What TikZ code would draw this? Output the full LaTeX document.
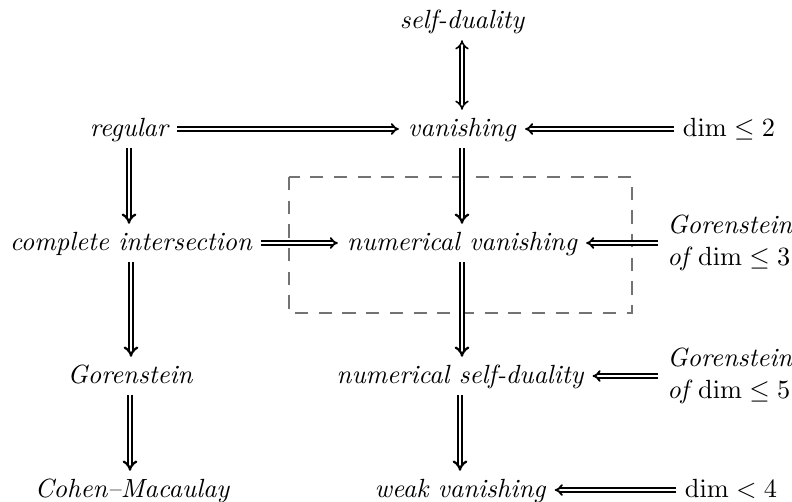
\documentclass[tikz,border=0pt]{standalone}
\usetikzlibrary{arrows.meta}
\tikzset{
  lbl/.style={inner sep=3.33pt, text height=1.5ex, text depth=.25ex, font=\itshape},
  mlbl/.style={inner sep=3.33pt, text height=1.5ex, text depth=.25ex},
  twoline/.style={inner sep=3.33pt, anchor=west, align=left, font=\itshape},
  harr/.style={double, line width=0.7pt, double distance=0.7pt, -{Implies}},
  varr/.style={double, line width=0.85pt, double distance=0.95pt, -{Implies}},
  barr/.style={double, line width=0.6pt, double distance=1.1pt, {Implies}-{Implies}},
  box/.style={draw=black!55, line width=0.6pt, dash pattern=on 5pt off 4pt}
}
\begin{document}
\begin{tikzpicture}[x=0.38pt, y=-0.38pt]
\useasboundingbox (0,0) rectangle (792,502);
% nodes
\node[lbl] (sd) at (462,21) {self-duality};
\node[lbl] (reg) at (129,129) {regular};
\node[lbl] (van) at (462,129) {vanishing};
\node[mlbl] (d2) at (729,129) {$\dim \leq 2$};
\node[lbl] (ci) at (131,243) {complete intersection};
\node[lbl] (nv) at (462,243) {numerical vanishing};
\node[twoline] (g3) at (658,243) {Gorenstein\\of \upshape$\dim \leq 3$};
\node[lbl] (gor) at (130,376) {Gorenstein};
\node[lbl] (nsd) at (460,376) {numerical self-duality};
\node[twoline] (g5) at (658,376) {Gorenstein\\of \upshape$\dim \leq 5$};
\node[lbl] (cm) at (132,490) {Cohen--Macaulay};
\node[lbl] (wv) at (460,490) {weak vanishing};
\node[mlbl] (d4) at (731,490) {$\dim < 4$};
% dashed box
\coordinate (bxa) at (289,177);
\coordinate (bxb) at (632,313);
\draw[box] (bxa) rectangle (bxb);
% arrows
\draw[barr] (sd.south) -- (sd.south |- van.north);
\draw[harr] (reg.east) -- (reg.east -| van.west);
\draw[harr] (d2.west) -- (d2.west -| van.east);
\draw[varr] (reg.south) -- (reg.south |- ci.north);
\draw[varr] (van.south) -- (van.south |- nv.north);
\draw[harr] (ci.east) -- (ci.east -| nv.west);
\draw[harr] (g3.west) -- (g3.west -| nv.east);
\draw[varr] (ci.south) -- (ci.south |- gor.north);
\draw[varr] (nv.south) -- (nv.south |- nsd.north);
\draw[harr] (g5.west) -- (g5.west -| nsd.east);
\draw[varr] (gor.south) -- (gor.south |- cm.north);
\draw[varr] (nsd.south) -- (nsd.south |- wv.north);
\draw[harr] (d4.west) -- (d4.west -| wv.east);
\end{tikzpicture}
\end{document}
